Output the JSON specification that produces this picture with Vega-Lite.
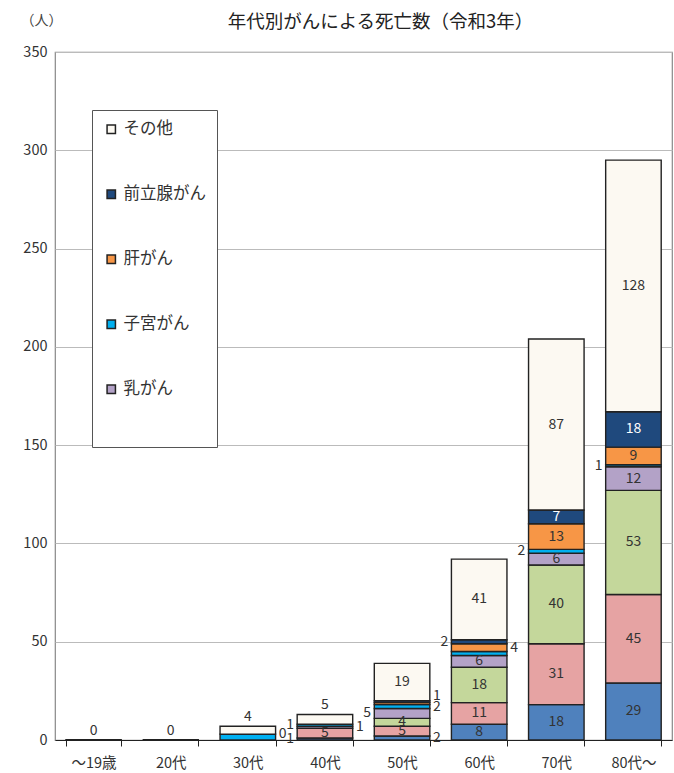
{
  "$schema": "https://vega.github.io/schema/vega-lite/v6.json",
  "autosize": {"type": "none"},
  "padding": {"left": 55, "top": 52, "right": 2, "bottom": 33},
  "width": 617,
  "height": 688,
  "background": "white",
  "config": {
    "font": "Noto Sans CJK JP",
    "view": {"stroke": "#888", "strokeWidth": 1.2}
  },
  "title": {
    "text": "年代別がんによる死亡数（令和3年）",
    "fontSize": 18.5,
    "fontWeight": "normal",
    "color": "#222",
    "anchor": "middle",
    "dx": 17,
    "offset": -18
  },
  "data": {
    "values": [
      {"age": "～19歳", "cancer": "胃がん", "value": 0},
      {"age": "～19歳", "cancer": "大腸がん", "value": 0},
      {"age": "～19歳", "cancer": "肺がん", "value": 0},
      {"age": "～19歳", "cancer": "乳がん", "value": 0},
      {"age": "～19歳", "cancer": "子宮がん", "value": 0},
      {"age": "～19歳", "cancer": "肝がん", "value": 0},
      {"age": "～19歳", "cancer": "前立腺がん", "value": 0},
      {"age": "～19歳", "cancer": "その他", "value": 0},
      {"age": "20代", "cancer": "胃がん", "value": 0},
      {"age": "20代", "cancer": "大腸がん", "value": 0},
      {"age": "20代", "cancer": "肺がん", "value": 0},
      {"age": "20代", "cancer": "乳がん", "value": 0},
      {"age": "20代", "cancer": "子宮がん", "value": 0},
      {"age": "20代", "cancer": "肝がん", "value": 0},
      {"age": "20代", "cancer": "前立腺がん", "value": 0},
      {"age": "20代", "cancer": "その他", "value": 0},
      {"age": "30代", "cancer": "胃がん", "value": 0},
      {"age": "30代", "cancer": "大腸がん", "value": 0},
      {"age": "30代", "cancer": "肺がん", "value": 0},
      {"age": "30代", "cancer": "乳がん", "value": 0},
      {"age": "30代", "cancer": "子宮がん", "value": 3},
      {"age": "30代", "cancer": "肝がん", "value": 0},
      {"age": "30代", "cancer": "前立腺がん", "value": 0},
      {"age": "30代", "cancer": "その他", "value": 4},
      {"age": "40代", "cancer": "胃がん", "value": 1},
      {"age": "40代", "cancer": "大腸がん", "value": 5},
      {"age": "40代", "cancer": "肺がん", "value": 0},
      {"age": "40代", "cancer": "乳がん", "value": 1},
      {"age": "40代", "cancer": "子宮がん", "value": 1},
      {"age": "40代", "cancer": "肝がん", "value": 0},
      {"age": "40代", "cancer": "前立腺がん", "value": 0},
      {"age": "40代", "cancer": "その他", "value": 5},
      {"age": "50代", "cancer": "胃がん", "value": 2},
      {"age": "50代", "cancer": "大腸がん", "value": 5},
      {"age": "50代", "cancer": "肺がん", "value": 4},
      {"age": "50代", "cancer": "乳がん", "value": 5},
      {"age": "50代", "cancer": "子宮がん", "value": 2},
      {"age": "50代", "cancer": "肝がん", "value": 1},
      {"age": "50代", "cancer": "前立腺がん", "value": 1},
      {"age": "50代", "cancer": "その他", "value": 19},
      {"age": "60代", "cancer": "胃がん", "value": 8},
      {"age": "60代", "cancer": "大腸がん", "value": 11},
      {"age": "60代", "cancer": "肺がん", "value": 18},
      {"age": "60代", "cancer": "乳がん", "value": 6},
      {"age": "60代", "cancer": "子宮がん", "value": 2},
      {"age": "60代", "cancer": "肝がん", "value": 4},
      {"age": "60代", "cancer": "前立腺がん", "value": 2},
      {"age": "60代", "cancer": "その他", "value": 41},
      {"age": "70代", "cancer": "胃がん", "value": 18},
      {"age": "70代", "cancer": "大腸がん", "value": 31},
      {"age": "70代", "cancer": "肺がん", "value": 40},
      {"age": "70代", "cancer": "乳がん", "value": 6},
      {"age": "70代", "cancer": "子宮がん", "value": 2},
      {"age": "70代", "cancer": "肝がん", "value": 13},
      {"age": "70代", "cancer": "前立腺がん", "value": 7},
      {"age": "70代", "cancer": "その他", "value": 87},
      {"age": "80代～", "cancer": "胃がん", "value": 29},
      {"age": "80代～", "cancer": "大腸がん", "value": 45},
      {"age": "80代～", "cancer": "肺がん", "value": 53},
      {"age": "80代～", "cancer": "乳がん", "value": 12},
      {"age": "80代～", "cancer": "子宮がん", "value": 1},
      {"age": "80代～", "cancer": "肝がん", "value": 9},
      {"age": "80代～", "cancer": "前立腺がん", "value": 18},
      {"age": "80代～", "cancer": "その他", "value": 128}
    ]
  },
  "transform": [
    {"calculate": "indexof(['胃がん','大腸がん','肺がん','乳がん','子宮がん','肝がん','前立腺がん','その他'], datum.cancer)", "as": "ord"},
    {"stack": "value", "groupby": ["age"], "sort": [{"field": "ord", "order": "ascending"}], "as": ["y0", "y1"]},
    {"calculate": "(datum.y0 + datum.y1) / 2", "as": "mid"},
    {"calculate": "datum.age + '|' + datum.cancer", "as": "key"},
    {"calculate": "datum.cancer == 'その他' && datum.value < 10 ? 'top' : (datum.value >= 6 || indexof(['40代|大腸がん','50代|大腸がん','50代|肺がん'], datum.key) >= 0) ? 'in' : indexof(['40代|胃がん','40代|子宮がん','50代|乳がん','60代|前立腺がん','70代|子宮がん','80代～|子宮がん'], datum.key) >= 0 ? 'left' : datum.key == '50代|前立腺がん' ? 'rtop' : indexof(['30代|肝がん','40代|乳がん','50代|胃がん','50代|子宮がん','60代|肝がん'], datum.key) >= 0 ? 'right' : 'none'", "as": "side"}
  ],
  "encoding": {
    "x": {
      "field": "age",
      "type": "nominal",
      "sort": ["～19歳", "20代", "30代", "40代", "50代", "60代", "70代", "80代～"],
      "scale": {"paddingInner": 0.28, "paddingOuter": 0.14},
      "axis": {
        "title": null,
        "labelAngle": 0,
        "labelFontSize": 14.5,
        "labelColor": "#333",
        "labelPadding": 10,
        "tickBand": "extent",
        "tickSize": 6,
        "tickColor": "#222",
        "domainColor": "#222",
        "domainWidth": 1.2
      }
    }
  },
  "layer": [
    {
      "mark": {"type": "bar", "stroke": "#222", "strokeWidth": 1.4},
      "encoding": {
        "y": {
          "field": "y1",
          "type": "quantitative",
          "scale": {"domain": [0, 350]},
          "axis": {
            "title": "（人）",
            "titleAngle": 0,
            "titleX": -14,
            "titleY": -32,
            "titleAlign": "center",
            "titleBaseline": "middle",
            "titleFontSize": 14,
            "titleFontWeight": "normal",
            "titleColor": "#444",
            "values": [0, 50, 100, 150, 200, 250, 300, 350],
            "labelFontSize": 14.5,
            "labelColor": "#333",
            "labelPadding": 8,
            "ticks": false,
            "domain": false,
            "gridColor": "#bbb",
            "gridWidth": 1
          }
        },
        "y2": {"field": "y0"},
        "color": {
          "field": "cancer",
          "type": "nominal",
          "scale": {
            "domain": ["胃がん", "大腸がん", "肺がん", "乳がん", "子宮がん", "肝がん", "前立腺がん", "その他"],
            "range": ["#4F81BD", "#E6A3A3", "#C4D79B", "#B3A2C7", "#00B0F0", "#F79646", "#1F497D", "#FCF9F2"]
          },
          "legend": {
            "values": ["その他", "前立腺がん", "肝がん", "子宮がん", "乳がん"],
            "title": "\u3000\u3000\u3000",
            "titleOrient": "bottom",
            "titlePadding": 24,
            "titleFontSize": 14,
            "orient": "none",
            "legendX": 37,
            "legendY": 58,
            "direction": "vertical",
            "fillColor": "white",
            "strokeColor": "#555",
            "padding": 11,
            "rowPadding": 48,
            "symbolType": "square",
            "symbolSize": 70,
            "symbolStrokeColor": "#222",
            "symbolStrokeWidth": 1.5,
            "labelFontSize": 16.5,
            "labelColor": "#333",
            "labelOffset": 4
          }
        },
        "order": {"field": "ord", "type": "quantitative"}
      }
    },
    {
      "transform": [{"filter": "datum.side == 'in'"}],
      "mark": {"type": "text", "fontSize": 14, "baseline": "middle"},
      "encoding": {
        "y": {"field": "mid", "type": "quantitative"},
        "text": {"field": "value", "type": "quantitative"},
        "color": {"condition": {"test": "datum.cancer == '前立腺がん'", "value": "white"}, "value": "#333"}
      }
    },
    {
      "transform": [{"filter": "datum.side == 'left'"}],
      "mark": {"type": "text", "fontSize": 14, "baseline": "middle", "align": "right", "dx": -31, "color": "#333"},
      "encoding": {
        "y": {"field": "mid", "type": "quantitative"},
        "text": {"field": "value", "type": "quantitative"}
      }
    },
    {
      "transform": [{"filter": "datum.side == 'right'"}],
      "mark": {"type": "text", "fontSize": 14, "baseline": "middle", "align": "left", "dx": 31, "color": "#333"},
      "encoding": {
        "y": {"field": "mid", "type": "quantitative"},
        "text": {"field": "value", "type": "quantitative"}
      }
    },
    {
      "transform": [{"filter": "datum.side == 'rtop'"}],
      "mark": {"type": "text", "fontSize": 14, "baseline": "bottom", "align": "left", "dx": 31, "dy": 2, "color": "#333"},
      "encoding": {
        "y": {"field": "y1", "type": "quantitative"},
        "text": {"field": "value", "type": "quantitative"}
      }
    },
    {
      "transform": [{"filter": "datum.side == 'top'"}],
      "mark": {"type": "text", "fontSize": 14, "baseline": "bottom", "dy": -2, "color": "#333"},
      "encoding": {
        "y": {"field": "y1", "type": "quantitative"},
        "text": {"field": "value", "type": "quantitative"}
      }
    }
  ]
}
